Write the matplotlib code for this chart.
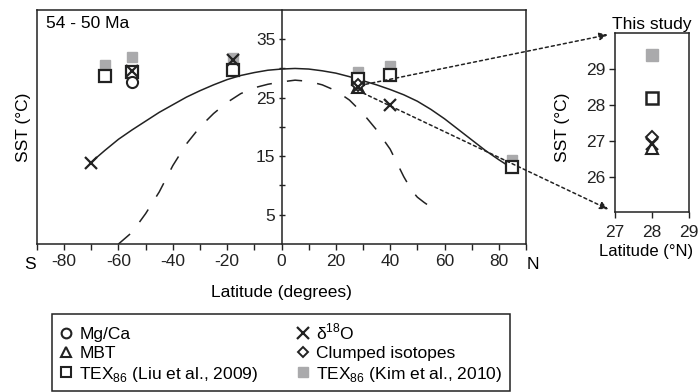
import matplotlib
matplotlib.use("Agg")
import matplotlib.pyplot as plt
from matplotlib.lines import Line2D
from matplotlib.patches import ConnectionPatch

plt.rcParams['font.family'] = ['Liberation Sans', 'DejaVu Sans']
plt.rcParams['font.size'] = 12.5
plt.rcParams['axes.linewidth'] = 1.1

INK = "#222222"
GREY = "#aaaaac"

# latitudinal SST curves
solid_lat = [-70, -65, -60, -55, -50, -45, -40, -35, -30, -25, -20, -15, -10, -5, 0, 5, 10,
             15, 20, 25, 30, 35, 40, 45, 50, 55, 60, 65, 70, 75, 80, 84]
solid_sst = [14.0, 16.0, 17.9, 19.5, 21.0, 22.5, 23.8, 25.1, 26.2, 27.2, 28.1, 28.8, 29.3, 29.7, 29.9, 30.0, 29.9,
             29.6, 29.2, 28.6, 27.9, 27.2, 26.4, 25.5, 24.4, 23.0, 21.4, 19.6, 17.8, 16.0, 14.4, 13.2]
dash_lat = [-60, -55, -50, -45, -40, -35, -30, -25, -20, -15, -10, -5, 0, 5, 10, 15, 20,
            25, 30, 35, 40, 45, 48, 50, 52.5, 55]
dash_sst = [0.0, 2.0, 5.2, 8.9, 13.4, 17.1, 20.0, 22.3, 24.2, 25.7, 26.7, 27.3, 27.7, 28.0, 27.8, 27.2, 26.2,
            24.6, 22.3, 19.5, 16.2, 11.5, 9.1, 8.0, 7.1, 6.3]

# proxy data (main panel)
mgca_lat = [-55]
mgca_sst = [27.7]
d18o_lat = [-70, -55, -18, 28, 40]
d18o_sst = [13.8, 29.6, 31.5, 26.8, 23.7]
mbt_lat = [28]
mbt_sst = [26.8]
clumped_lat = [28]
clumped_sst = [27.1]
liu_lat = [-65, -55, -18, 28, 40, 85]
liu_sst = [28.7, 29.4, 29.7, 28.2, 28.9, 13.2]
kim_lat = [-65, -55, -18, 28, 40, 85]
kim_sst = [30.6, 31.9, 31.8, 29.4, 30.4, 14.3]

# this study (inset)
study_lat = 28
study_kim = 29.4
study_liu = 28.2
study_clumped = 27.1
study_d18o = 26.9
study_mbt = 26.8

fig = plt.figure(figsize=(6.98, 3.92), dpi=100)
ax = fig.add_axes([0.053, 0.3776, 0.7006, 0.597])
ins = fig.add_axes([0.8807, 0.4584, 0.1064, 0.4566])

# ---- main panel
ax.plot(solid_lat, solid_sst, color=INK, lw=1.1, zorder=2)
ax.plot(dash_lat, dash_sst, color=INK, lw=1.1, dashes=(10, 10), zorder=2)

ax.plot(kim_lat, kim_sst, ls="none", marker="s", ms=7.5, color=GREY, zorder=3)
ax.plot(liu_lat, liu_sst, ls="none", marker="s", ms=8, mfc="white", mec=INK, mew=1.6, zorder=4)
ax.plot(mgca_lat, mgca_sst, ls="none", marker="o", ms=8, mfc="white", mec=INK, mew=1.5, zorder=4)
ax.plot(mbt_lat, mbt_sst, ls="none", marker="^", ms=8, mfc="white", mec=INK, mew=1.5, zorder=5)
ax.plot(clumped_lat, clumped_sst, ls="none", marker="D", ms=6, mfc="white", mec=INK, mew=1.4, zorder=5)
ax.plot(d18o_lat, d18o_sst, ls="none", marker="x", ms=9, color=INK, mew=1.6, zorder=6)

ax.set_xlim(-90, 90)
ax.set_ylim(0, 40)
ticks = list(range(-90, 91, 10))
ax.set_xticks(ticks)
ax.set_xticklabels(["" if (t % 20 or abs(t) == 90) else str(t) for t in ticks])
ax.tick_params(axis="x", direction="out", length=4, width=1, pad=3, colors=INK)
ax.tick_params(axis="y", left=False, labelleft=False)
ax.text(-92.5, -2.3, "S", ha="center", va="top")
ax.text(92.5, -2.3, "N", ha="center", va="top")
ax.set_xlabel("Latitude (degrees)")
ax.xaxis.set_label_coords(0.5, -0.175)
ax.set_ylabel("SST (°C)")
ax.yaxis.set_label_coords(-0.012, 0.5)
ax.text(0.018, 0.975, "54 - 50 Ma", transform=ax.transAxes, ha="left", va="top")
for s in ax.spines.values():
    s.set_color(INK)

yax = ax.secondary_yaxis(0.5)
yax.set_alignment("left")
yax.set_yticks([5, 15, 25, 35])
yax.set_yticks([10, 20, 30], minor=True)
yax.tick_params(which="both", direction="inout", length=5, width=1, pad=2, colors=INK)
yax.spines["left"].set_color(INK)

# ---- inset (this study)
ins.plot([study_lat], [study_kim], ls="none", marker="s", ms=8.5, color=GREY)
ins.plot([study_lat], [study_liu], ls="none", marker="s", ms=8.5, mfc="white", mec=INK, mew=1.8)
ins.plot([study_lat], [study_clumped], ls="none", marker="D", ms=6, mfc="white", mec=INK, mew=1.4)
ins.plot([study_lat], [study_mbt], ls="none", marker="^", ms=8, mfc="white", mec=INK, mew=1.5)
ins.plot([study_lat], [study_d18o], ls="none", marker="x", ms=8, color=INK, mew=1.6)
ins.set_xlim(27, 29)
ins.set_ylim(25, 30)
ins.set_xticks([27, 28, 29])
ins.set_yticks([26, 27, 28, 29])
ins.tick_params(direction="out", length=4, width=1, pad=3, colors=INK)
ins.tick_params(axis="x", pad=5)
ins.set_title("This study", fontsize=12.5, pad=3)
ins.set_xlabel("Latitude (°N)", fontsize=12)
ins.xaxis.set_label_coords(0.42, -0.175)
ins.set_ylabel("SST (°C)")
ins.yaxis.set_label_coords(-0.60, 0.477)
for s in ins.spines.values():
    s.set_color(INK)

# dotted arrows from the 28°N cluster to the inset
for a, b in [((31, 27.3), (27, 30)), ((30, 25.8), (27, 25))]:
    con = ConnectionPatch(xyA=a, coordsA=ax.transData, xyB=b, coordsB=ins.transData,
                          arrowstyle="-|>,head_length=0.5,head_width=0.22",
                          linestyle=(0, (2, 2)), lw=1.1, color=INK,
                          shrinkA=0, shrinkB=5, mutation_scale=10)
    fig.add_artist(con)

# ---- legend
handles = [
    Line2D([], [], ls="none", marker="o", ms=7, mfc="white", mec=INK, mew=1.5),
    Line2D([], [], ls="none", marker="^", ms=7, mfc="white", mec=INK, mew=1.5),
    Line2D([], [], ls="none", marker="s", ms=7, mfc="white", mec=INK, mew=1.5),
    Line2D([], [], ls="none", marker="x", ms=8, color=INK, mew=1.6),
    Line2D([], [], ls="none", marker="D", ms=5.5, mfc="white", mec=INK, mew=1.4),
    Line2D([], [], ls="none", marker="s", ms=7, color=GREY),
]
labels = ["Mg/Ca", "MBT", r"TEX$_{\mathregular{86}}$ (Liu et al., 2009)",
          r"δ$^{\mathregular{18}}$O", "Clumped isotopes", r"TEX$_{\mathregular{86}}$ (Kim et al., 2010)"]
leg = fig.legend(handles, labels, ncol=2, loc="upper left",
                 bbox_to_anchor=(0.074, 0.199, 0.657, 0.0), mode="expand",
                 frameon=True, fancybox=False, edgecolor=INK, framealpha=1,
                 handlelength=0.8, handletextpad=0.35, labelspacing=0.2,
                 borderpad=0.45, borderaxespad=0)
leg.get_frame().set_linewidth(1.1)

fig.savefig("out.png", dpi=100)
